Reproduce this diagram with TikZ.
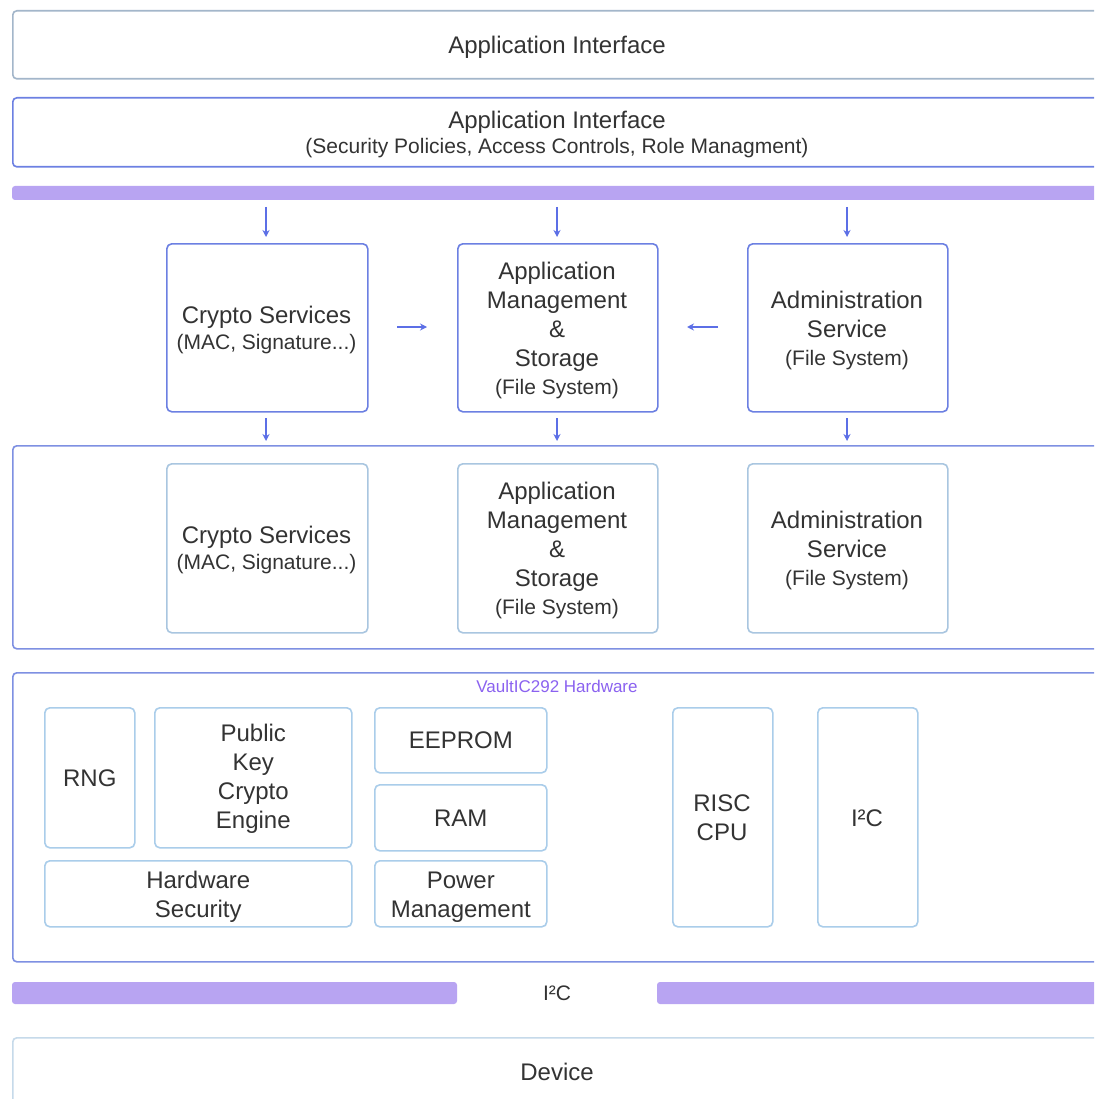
\documentclass[tikz,border=0pt]{standalone}
\usepackage{fontspec}
\setmainfont{Liberation Sans}
\usetikzlibrary{arrows.meta}
\definecolor{txt}{HTML}{333333}
\definecolor{graybd}{HTML}{A3B6CA}
\definecolor{bluebd}{HTML}{6C80E2}
\definecolor{midbd}{HTML}{7E90E2}
\definecolor{lightbd}{HTML}{A9C6E0}
\definecolor{hwbd}{HTML}{AACDEA}
\definecolor{devbd}{HTML}{C6DAEA}
\definecolor{barc}{HTML}{B8A4F2}
\definecolor{arrowc}{HTML}{5C6FE6}
\definecolor{hwlabel}{HTML}{8B62F0}
\newcommand{\mainf}{\fontsize{24}{29}\selectfont}
\newcommand{\subf}{\fontsize{21}{27}\selectfont}
\tikzset{
  wide/.style={draw=#1, line width=1.6pt, rounded corners=4pt, minimum width=1090pt, anchor=north west, inner sep=0pt, text=txt},
  svc/.style={draw=#1, line width=1.6pt, rounded corners=5pt, fill=white, anchor=north west, inner sep=0pt, text=txt, align=center},
  lbl/.style={text=txt, align=center, font=\mainf, inner sep=0pt},
  bar/.style={fill=barc, rounded corners=3pt},
  arr/.style={draw=arrowc, line width=1.8pt, -{Stealth[length=7pt,width=7pt]}},
}
\begin{document}
\begin{tikzpicture}[x=1pt,y=-1pt]
\useasboundingbox (0,0) rectangle (1094,1099);
\clip (0,0) rectangle (1094,1099);
\fill[white] (0,0) rectangle (1094,1099);

% top boxes
\node[wide=graybd, minimum height=68pt] (ai1) at (12,10) {};
\node[lbl, anchor=base] (ai1t) at (557,54) {Application Interface};
\node[wide=bluebd, minimum height=69pt] (ai2) at (12,97) {};
\node[lbl, anchor=base] (ai2a) at (557,129) {Application Interface};
\node[lbl, anchor=base, font=\subf] (ai2b) at (557,154) {(Security Policies, Access Controls, Role Managment)};

% purple bar
\fill[bar] (12,186) rectangle (1102,200);

% row 1 services
\node[svc=bluebd, minimum width=201pt, minimum height=168pt] (cs1) at (166,243) {};
\node[svc=bluebd, minimum width=200pt, minimum height=168pt] (am1) at (457,243) {};
\node[svc=bluebd, minimum width=200pt, minimum height=168pt] (ad1) at (747,243) {};
\node[lbl] (cs1t) at (266.5,330) {Crypto Services\\[-3pt]{\subf (MAC, Signature...)}};
\node[lbl] (am1t) at (557,330) {Application\\Management\\\&\\Storage\\[-1pt]{\subf (File System)}};
\node[lbl] (ad1t) at (847,330) {Administration\\Service\\[-1pt]{\subf (File System)}};

% arrows
\coordinate (d1s) at (266,207); \coordinate (d1e) at (266,237);
\coordinate (d2s) at (557,207); \coordinate (d2e) at (557,237);
\coordinate (d3s) at (847,207); \coordinate (d3e) at (847,237);
\draw[arr] (d1s) -- (d1e);
\draw[arr] (d2s) -- (d2e);
\draw[arr] (d3s) -- (d3e);
\coordinate (h1s) at (397,327); \coordinate (h1e) at (427,327);
\coordinate (h2s) at (718,327); \coordinate (h2e) at (687,327);
\draw[arr] (h1s) -- (h1e);
\draw[arr] (h2s) -- (h2e);
\coordinate (e1s) at (266,418); \coordinate (e1e) at (266,441);
\coordinate (e2s) at (557,418); \coordinate (e2e) at (557,441);
\coordinate (e3s) at (847,418); \coordinate (e3e) at (847,441);
\draw[arr] (e1s) -- (e1e);
\draw[arr] (e2s) -- (e2e);
\draw[arr] (e3s) -- (e3e);

% container 2
\node[wide=midbd, minimum height=203pt] (mid) at (12,445) {};
\node[svc=lightbd, minimum width=201pt, minimum height=169pt] (cs2) at (166,463) {};
\node[svc=lightbd, minimum width=200pt, minimum height=169pt] (am2) at (457,463) {};
\node[svc=lightbd, minimum width=200pt, minimum height=169pt] (ad2) at (747,463) {};
\node[lbl] (cs2t) at (266.5,550) {Crypto Services\\[-3pt]{\subf (MAC, Signature...)}};
\node[lbl] (am2t) at (557,550) {Application\\Management\\\&\\Storage\\[-1pt]{\subf (File System)}};
\node[lbl] (ad2t) at (847,550) {Administration\\Service\\[-1pt]{\subf (File System)}};

% hardware
\node[wide=midbd, minimum height=289pt] (hw) at (12,672) {};
\node[text=hwlabel, font=\fontsize{17}{20}\selectfont] (hwl) at (557,686) {VaultIC292 Hardware};
\node[svc=hwbd, minimum width=90pt, minimum height=140pt] (rng) at (44,707) {};
\node[lbl] (rngt) at (rng.center) {RNG};
\node[svc=hwbd, minimum width=197pt, minimum height=140pt] (pk) at (154,707) {};
\node[lbl] (pkt) at ([yshift=-1pt]pk.center) {Public\\Key\\Crypto\\Engine};
\node[svc=hwbd, minimum width=307pt, minimum height=66pt] (hs) at (44,860) {};
\node[lbl] (hst) at ([yshift=-3pt]hs.center) {Hardware\\Security};
\node[svc=hwbd, minimum width=172pt, minimum height=65pt] (ee) at (374,707) {};
\node[lbl] (eet) at (ee.center) {EEPROM};
\node[svc=hwbd, minimum width=172pt, minimum height=66pt] (ram) at (374,784) {};
\node[lbl] (ramt) at (ram.center) {RAM};
\node[svc=hwbd, minimum width=172pt, minimum height=66pt] (pm) at (374,860) {};
\node[lbl] (pmt) at ([yshift=-3pt]pm.center) {Power\\Management};
\node[svc=hwbd, minimum width=100pt, minimum height=219pt] (cpu) at (672,707) {};
\node[lbl] (cput) at (722,818) {RISC\\CPU};
\node[svc=hwbd, minimum width=100pt, minimum height=219pt] (i2c) at (817,707) {};
\node[lbl] (i2ct) at (867,818) {I²C};

% bottom bars
\fill[bar] (12,982) rectangle (457,1004);
\fill[bar] (657,982) rectangle (1102,1004);
\node[lbl, font=\subf] (i2cl) at (557,993) {I²C};

% device
\node[wide=devbd, minimum height=90pt] (dev) at (12,1037) {};
\node[lbl] (devt) at (557,1072) {Device};
\end{tikzpicture}
\end{document}
